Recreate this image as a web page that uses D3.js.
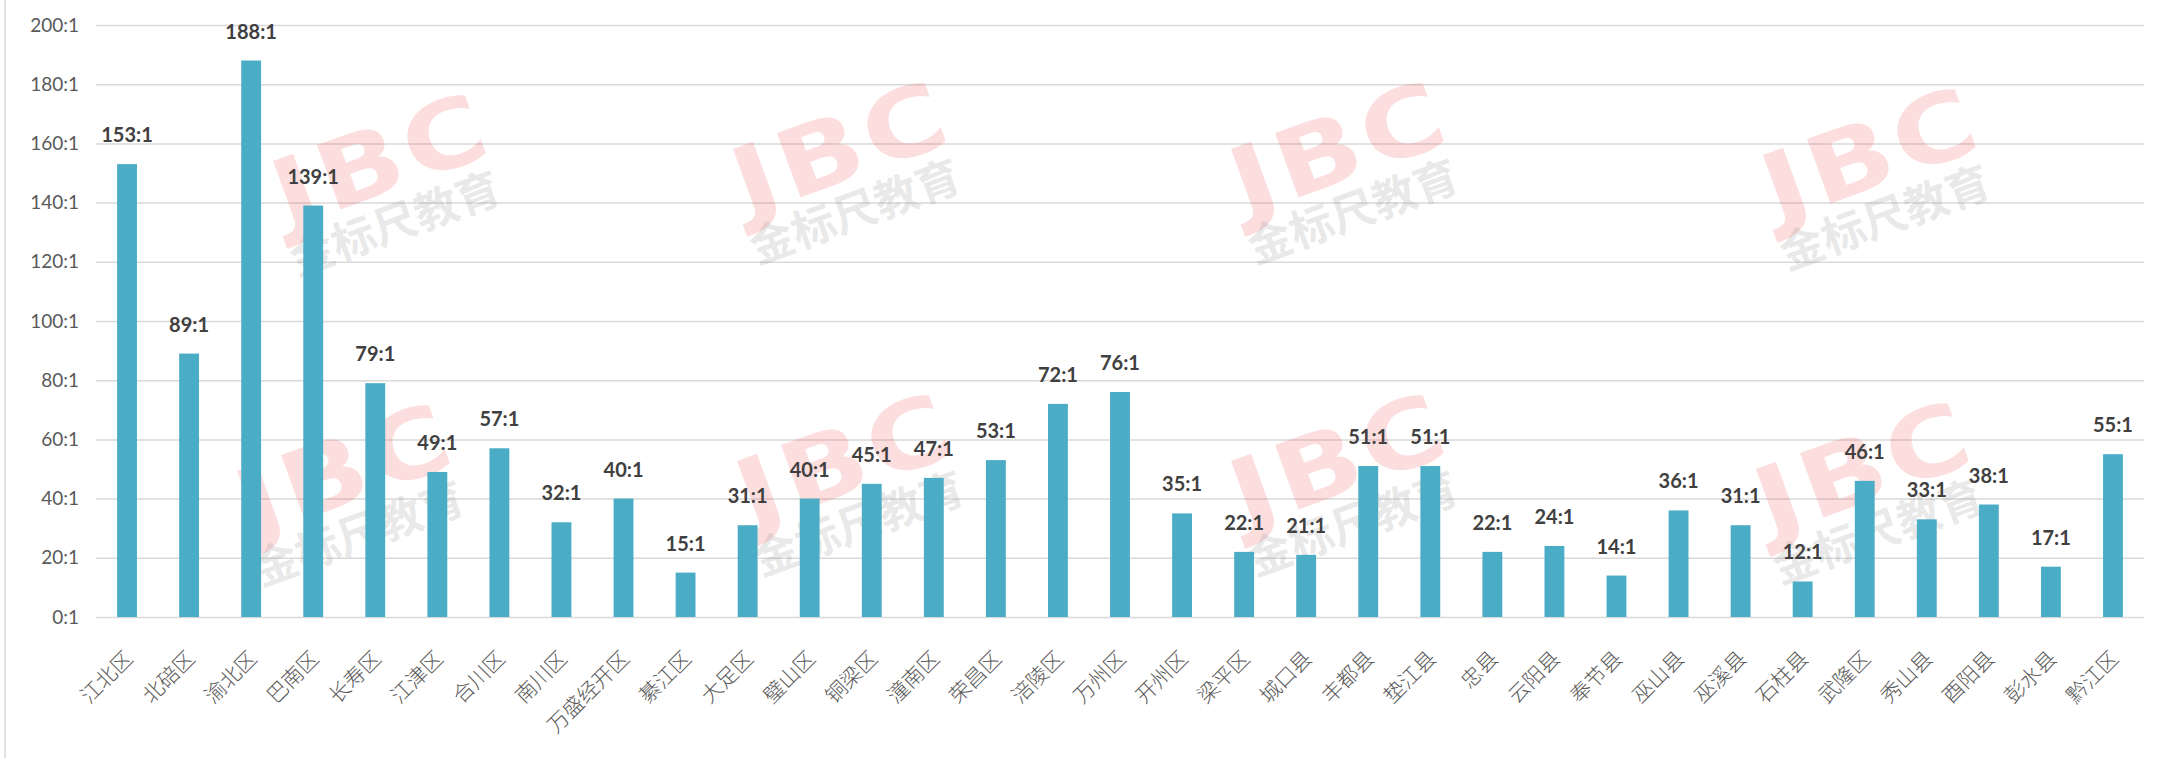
<!DOCTYPE html>
<html>
<head>
<meta charset="utf-8">
<script src="https://cdn.jsdelivr.net/npm/d3@7"></script>
<style>
  html, body { margin: 0; padding: 0; background: #fff; }
  svg { display: block; }
</style>
</head>
<body>
<svg id="chart"></svg>
<script>
// 区县名称
const districts = [
  '江北区', '北碚区', '渝北区', '巴南区', '长寿区', '江津区', '合川区', '南川区',
  '万盛经开区', '綦江区', '大足区', '璧山区', '铜梁区', '潼南区', '荣昌区', '涪陵区',
  '万州区', '开州区', '梁平区', '城口县', '丰都县', '垫江县', '忠县', '云阳县',
  '奉节县', '巫山县', '巫溪县', '石柱县', '武隆区', '秀山县', '酉阳县', '彭水县', '黔江区'
];

// 竞争比 (x:1)
const ratios = [
  153, 89, 188, 139, 79, 49, 57, 32,
  40, 15, 31, 40, 45, 47, 53, 72,
  76, 35, 22, 21, 51, 51, 22, 24,
  14, 36, 31, 12, 46, 33, 38, 17, 55
];

// y 轴刻度
const yTicks = [0, 20, 40, 60, 80, 100, 120, 140, 160, 180, 200];

// 水印位置
const watermarks = [
  [388, 190], [848, 178], [1346, 178], [1878, 184],
  [352, 500], [852, 490], [1346, 490], [1871, 498]
];

const width = 2165;
const height = 758;
const margin = { top: 25, right: 21, bottom: 141, left: 96 };

const svg = d3.select('#chart')
  .attr('width', width)
  .attr('height', height);

svg.append('rect')
  .attr('width', width)
  .attr('height', height)
  .attr('fill', '#fff');

// 左侧边框
svg.append('line')
  .attr('x1', 5).attr('x2', 5)
  .attr('y1', 0).attr('y2', height)
  .attr('stroke', '#d9d9d9')
  .attr('stroke-width', 1.5);

const x = d3.scaleBand()
  .domain(districts)
  .range([margin.left, width - margin.right])
  .padding(0);

const y = d3.scaleLinear()
  .domain([0, 200])
  .range([height - margin.bottom, margin.top]);

const barWidth = x.bandwidth() * 0.32;

// 网格线
const yAxis = d3.axisLeft(y)
  .tickValues(yTicks)
  .tickSize(-(width - margin.left - margin.right))
  .tickPadding(17)
  .tickFormat(d => d + ':1');

const gy = svg.append('g')
  .attr('transform', `translate(${margin.left},0)`)
  .call(yAxis);

gy.select('.domain').remove();
gy.selectAll('.tick line')
  .attr('stroke', '#d9d9d9')
  .attr('stroke-width', 1.5);
gy.selectAll('.tick text')
  .attr('fill', '#595959')
  .style('font-family', 'Lato, "Open Sans", sans-serif')
  .style('font-size', '19px');

// 水印
const wm = svg.append('g').attr('class', 'watermarks');
watermarks.forEach(([cx, cy]) => {
  const g = wm.append('g')
    .attr('transform', `translate(${cx},${cy}) rotate(-20)`);
  g.append('text')
    .attr('transform', 'translate(4,2) scale(1.2,1)')
    .attr('text-anchor', 'middle')
    .attr('fill', 'rgb(238,90,90)')
    .attr('fill-opacity', 0.2)
    .style('font-family', '"DejaVu Sans", sans-serif')
    .style('font-weight', 'bold')
    .style('font-size', '94px')
    .style('letter-spacing', '4px')
    .text('JBC');
  g.append('text')
    .attr('x', -5)
    .attr('y', 50)
    .attr('text-anchor', 'middle')
    .attr('fill', 'rgb(120,120,120)')
    .attr('fill-opacity', 0.17)
    .style('font-family', '"Noto Sans CJK SC", sans-serif')
    .style('font-weight', 'bold')
    .style('font-size', '44px')
    .text('金标尺教育');
});

// 柱子
svg.append('g')
  .selectAll('rect')
  .data(ratios)
  .join('rect')
  .attr('x', (d, i) => x(districts[i]) + (x.bandwidth() - barWidth) / 2)
  .attr('y', d => y(d))
  .attr('width', barWidth)
  .attr('height', d => y(0) - y(d))
  .attr('fill', '#4bacc6');

// 数据标签
svg.append('g')
  .selectAll('text')
  .data(ratios)
  .join('text')
  .attr('x', (d, i) => x(districts[i]) + x.bandwidth() / 2)
  .attr('y', d => y(d) - 22)
  .attr('text-anchor', 'middle')
  .attr('fill', '#404040')
  .style('font-family', 'Lato, "Open Sans", sans-serif')
  .style('font-weight', 'bold')
  .style('font-size', '20px')
  .text(d => d + ':1');

// x 轴标签 (旋转 45 度)
svg.append('g')
  .selectAll('text')
  .data(districts)
  .join('text')
  .attr('transform', d => `translate(${x(d) + x.bandwidth() / 2 + 7},${y(0) + 43}) rotate(-45)`)
  .attr('text-anchor', 'end')
  .attr('fill', '#595959')
  .style('font-family', '"Noto Sans CJK SC", sans-serif')
  .style('font-weight', 300)
  .style('font-size', '21px')
  .text(d => d);
</script>
</body>
</html>
